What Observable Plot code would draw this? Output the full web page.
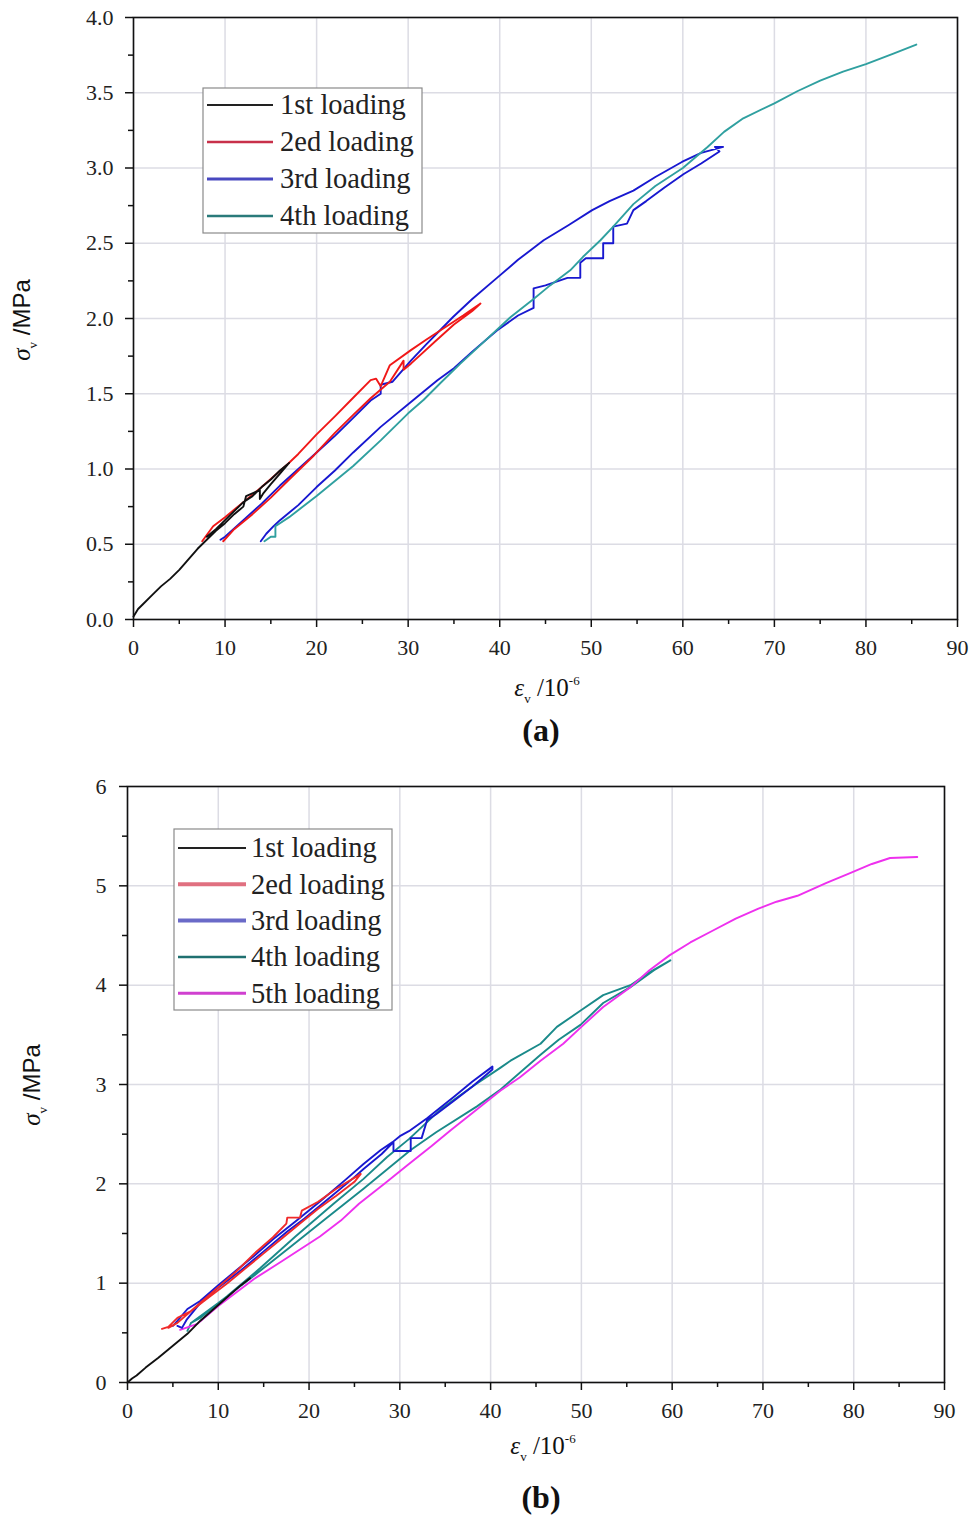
<!DOCTYPE html>
<html>
<head>
<meta charset="utf-8">
<script src="https://cdn.jsdelivr.net/npm/d3@7"></script>
<script src="https://cdn.jsdelivr.net/npm/@observablehq/plot@0.6"></script>
<style>
  body { margin: 0; background: #fff; }
  #wrap { position: relative; width: 969px; height: 1519px; background: #fff; }
  .fig { position: absolute; left: 0; }
  .cap { position: absolute; left: 441px; width: 200px; text-align: center;
         font-family: "Liberation Serif", serif; font-weight: bold; font-size: 32px; color: #111; }
</style>
</head>
<body>
<div id="wrap">
  <div class="fig" id="figA" style="top:0px"></div>
  <div class="cap" style="top:712px">(a)</div>
  <div class="fig" id="figB" style="top:760px"></div>
  <div class="cap" style="top:1479px">(b)</div>
</div>
<script>
// ---------- tick values ----------
const xTicks = [0, 10, 20, 30, 40, 50, 60, 70, 80, 90];
const xMinor = [5, 15, 25, 35, 45, 55, 65, 75, 85];
const yTicksA = [0, 0.5, 1.0, 1.5, 2.0, 2.5, 3.0, 3.5, 4.0];
const yMinorA = [0.25, 0.75, 1.25, 1.75, 2.25, 2.75, 3.25, 3.75];
const yTicksB = [0, 1, 2, 3, 4, 5, 6];
const yMinorB = [0.5, 1.5, 2.5, 3.5, 4.5, 5.5];

// ---------- series names ----------
const namesA = ["1st loading", "2ed loading", "3rd loading", "4th loading"];
const namesB = ["1st loading", "2ed loading", "3rd loading", "4th loading", "5th loading"];

// ---------- chart (a) data: [strain 1e-6, stress MPa] ----------
const a1st = [[0,0.02],[0.5,0.07],[1,0.1],[2,0.16],[3,0.22],[4,0.27],[5,0.33],[6,0.4],[7,0.47],[8,0.53],[9,0.59],[10,0.64],[11,0.7],[12,0.75],[12.3,0.82],[13.8,0.86],[13.8,0.8],[14.2,0.84],[15,0.9],[16,0.97],[17,1.04],[16,0.99],[15,0.93],[14,0.88],[13,0.82],[12,0.78],[11,0.72],[10,0.66],[9,0.6],[8,0.55]];
const a2ed = [[7.5,0.52],[8.7,0.62],[10,0.68],[12,0.78],[14,0.88],[16.8,1.03],[18,1.1],[20,1.23],[22,1.35],[23.7,1.455],[25.9,1.59],[26.5,1.6],[27,1.55],[28,1.69],[30.3,1.79],[32,1.86],[34,1.94],[36,2.02],[37.9,2.1],[37,2.05],[35,1.96],[33,1.85],[30.3,1.7],[29.5,1.66],[29.5,1.72],[28,1.58],[25.9,1.47],[24,1.36],[22,1.24],[19.7,1.09],[17,0.93],[15,0.81],[13,0.7],[11,0.6],[9.8,0.52]];
const a3rd = [[9.5,0.53],[10,0.55],[12,0.66],[14,0.77],[16,0.89],[18,1.0],[20,1.11],[22,1.22],[24,1.34],[25.9,1.455],[27,1.5],[27,1.56],[28.3,1.58],[30.3,1.72],[32,1.83],[34.9,2.01],[37,2.13],[39.7,2.27],[42,2.39],[44.8,2.52],[47.5,2.62],[50.1,2.72],[52,2.78],[54.6,2.85],[57,2.94],[59.9,3.04],[62,3.1],[64.4,3.14],[63.5,3.14],[64,3.11],[62,3.03],[60.1,2.96],[58,2.87],[56,2.78],[54.6,2.72],[53.9,2.63],[52.4,2.61],[52.4,2.5],[51.3,2.5],[51.3,2.4],[49.4,2.4],[48.8,2.37],[48.8,2.27],[47.4,2.27],[45,2.22],[43.7,2.2],[43.7,2.07],[42,2.02],[39.7,1.92],[37,1.78],[35,1.67],[33.2,1.59],[30.4,1.45],[27,1.28],[24,1.11],[22,0.99],[20,0.88],[18,0.76],[16,0.66],[15.3,0.62],[14.5,0.57],[13.9,0.52]];
const a4th = [[14.3,0.52],[15,0.55],[15.5,0.55],[15.5,0.62],[17,0.68],[20,0.82],[22,0.92],[24,1.02],[27,1.19],[30,1.37],[31.7,1.46],[33.5,1.57],[35.7,1.7],[38,1.83],[41.2,2.01],[43.7,2.13],[45.5,2.22],[47.7,2.32],[49.1,2.41],[51,2.52],[52.4,2.61],[54.6,2.76],[57,2.88],[60,3.0],[62.7,3.14],[64.5,3.24],[66.6,3.33],[70,3.43],[72.5,3.51],[75,3.58],[77.5,3.64],[80,3.69],[83,3.76],[85.5,3.82]];

// ---------- chart (b) data ----------
const b1st = [[0,0.0],[0.5,0.04],[1,0.07],[2,0.15],[3.4,0.25],[5,0.37],[6.6,0.49],[8,0.62],[9.5,0.74],[11,0.86],[12.5,0.98],[13.5,1.05]];
const b2ed = [[3.8,0.54],[4.5,0.56],[5.5,0.65],[7,0.72],[8,0.8],[10,0.96],[12,1.12],[14,1.3],[16,1.46],[17.5,1.6],[17.6,1.66],[19,1.66],[19.2,1.73],[21,1.82],[23,1.95],[25.7,2.1],[25,2.02],[23,1.88],[21,1.75],[19,1.6],[17,1.45],[15,1.3],[13,1.15],[11,1.0],[9,0.86],[7,0.72],[5.5,0.6],[4.5,0.55]];
const b3rd = [[5,0.57],[5.5,0.62],[6.6,0.74],[8,0.82],[10,0.98],[12,1.13],[13.9,1.27],[16,1.44],[18.5,1.62],[21.3,1.83],[24,2.04],[26,2.2],[27.9,2.34],[29.2,2.42],[30,2.48],[31,2.53],[33,2.66],[34.1,2.74],[36,2.88],[38,3.03],[40.2,3.18],[40.2,3.15],[38,2.98],[36,2.84],[34,2.7],[33,2.64],[32.4,2.46],[31.2,2.46],[31.2,2.33],[29.3,2.33],[29.3,2.42],[28,2.3],[26,2.15],[24.9,2.06],[22,1.84],[19.5,1.65],[17.6,1.52],[15,1.32],[12.5,1.13],[10.2,0.97],[8,0.8],[6.5,0.63],[6,0.55],[5.5,0.57]];
const b4th = [[6.6,0.52],[7,0.6],[10,0.8],[14,1.08],[18,1.37],[22,1.66],[26,1.95],[31.2,2.34],[34,2.52],[38.5,2.78],[41.1,2.95],[45.5,3.3],[47.5,3.45],[49.9,3.6],[52.4,3.82],[55.4,3.98],[58,4.15],[59.8,4.25],[57.5,4.13],[55.4,4.0],[52.4,3.9],[50,3.75],[47.3,3.58],[45.5,3.41],[42.2,3.24],[41.1,3.17],[38,2.98],[34.5,2.75],[31,2.45],[28.6,2.27],[26,2.05],[22.7,1.8],[18.5,1.47],[14.6,1.15],[11,0.87],[8,0.65],[7,0.6]];
const b5th = [[5.8,0.53],[7.7,0.59],[10,0.77],[13.9,1.04],[17,1.22],[21.2,1.47],[23.5,1.63],[25.5,1.8],[28.3,2.0],[31,2.2],[33.5,2.38],[35.6,2.54],[38.1,2.72],[41.1,2.94],[43.2,3.07],[45.5,3.24],[48,3.41],[50,3.58],[52.4,3.78],[55.4,3.98],[57.5,4.15],[59.7,4.3],[62,4.43],[64.5,4.55],[67,4.67],[69.5,4.77],[71.5,4.84],[73.8,4.9],[77,5.03],[79.4,5.12],[82,5.22],[84,5.28],[87,5.29]];

// ---------- colours ----------
const lineColA = ["#111111", "#f01818", "#1818d0", "#30a0a0"];
const legColA  = ["#222222", "#c8304a", "#4848c0", "#2a7a7a"];
const lineColB = ["#111111", "#f02a2a", "#1818d0", "#1a8a8a", "#ee30ee"];
const legColB  = ["#222222", "#e07080", "#6a6ac8", "#1f7070", "#d040d0"];

function rows(name, pts) { return pts.map(([x, y]) => ({x, y, name})); }

function buildChart(cfg) {
  const plot = Plot.plot({
    width: 969, height: 710,
    marginTop: cfg.mt, marginLeft: cfg.ml, marginRight: cfg.mr, marginBottom: cfg.mb,
    x: {domain: [0, 90]},
    y: {domain: cfg.ydom},
    color: {domain: cfg.names, range: cfg.colors},
    style: {fontFamily: "Liberation Serif, serif", fontSize: "22px", color: "#222", background: "white", overflow: "visible"},
    marks: [
      Plot.gridX(xTicks, {stroke: "#dcdce4", strokeOpacity: 1, strokeWidth: 1.5}),
      Plot.gridY(cfg.yTicks, {stroke: "#dcdce4", strokeOpacity: 1, strokeWidth: 1.5}),
      Plot.line(cfg.data, {x: "x", y: "y", z: "name", stroke: "name", strokeWidth: 1.9, curve: "linear"}),
      Plot.frame({stroke: "#111", strokeWidth: 1.6}),
      Plot.axisX(xTicks, {tickSize: 8, tickPadding: 12, label: null, fontSize: 22, stroke: "#111", strokeWidth: 1.5}),
      Plot.axisX(xMinor, {tickSize: 5, tickFormat: () => "", label: null, stroke: "#111", strokeWidth: 1.5}),
      Plot.axisY(cfg.yTicks, {tickSize: 8, tickPadding: cfg.ypad, label: null, fontSize: 22, tickFormat: cfg.yfmt, stroke: "#111", strokeWidth: 1.5}),
      Plot.axisY(cfg.yMinor, {tickSize: 5, tickFormat: () => "", label: null, stroke: "#111", strokeWidth: 1.5})
    ]
  });
  const svg = d3.select(plot);

  // x axis label: ε_v /10^-6
  const xl = svg.append("text").attr("x", cfg.xlab[0]).attr("y", cfg.xlab[1])
    .attr("text-anchor", "middle").attr("fill", "#111")
    .style("font-family", "Liberation Serif, serif").style("font-size", "25px");
  xl.append("tspan").attr("font-style", "italic").text("ε");
  xl.append("tspan").attr("font-size", "13px").attr("dy", 7).text("v");
  xl.append("tspan").attr("dy", -7).text(" /10");
  xl.append("tspan").attr("font-size", "13px").attr("dy", -11).text("-6");

  // y axis label: σ_v /MPa
  const yl = svg.append("text").attr("transform", `translate(${cfg.ylab[0]},${cfg.ylab[1]}) rotate(-90)`)
    .attr("text-anchor", "middle").attr("fill", "#111")
    .style("font-family", "Liberation Serif, serif").style("font-size", "25px");
  yl.append("tspan").attr("font-style", "italic").text("σ");
  yl.append("tspan").attr("font-size", "13px").attr("dy", 7).text("v");
  yl.append("tspan").attr("dy", -7).attr("font-family", "Liberation Sans, sans-serif").attr("font-size", "24px").text(" /MPa");

  // legend
  const L = cfg.legend;
  const g = svg.append("g");
  g.append("rect").attr("x", L.x).attr("y", L.y).attr("width", L.w).attr("height", L.h)
    .attr("fill", "white").attr("stroke", "#8a8a8a").attr("stroke-width", 1.2);
  cfg.names.forEach((n, i) => {
    const cy = L.row0 + i * L.step;
    g.append("line").attr("x1", L.lx1).attr("x2", L.lx2).attr("y1", cy).attr("y2", cy)
      .attr("stroke", cfg.legColors[i]).attr("stroke-width", cfg.legWidths[i]);
    g.append("text").attr("x", L.tx).attr("y", cy).attr("dy", "0.33em")
      .attr("text-anchor", "start")
      .attr("fill", "#222").style("font-family", "Liberation Serif, serif").style("font-size", "28.5px")
      .text(n);
  });
  return plot;
}

const dataA = [
  ...rows(namesA[2], a3rd), ...rows(namesA[3], a4th), ...rows(namesA[1], a2ed), ...rows(namesA[0], a1st)
];
const dataB = [
  ...rows(namesB[3], b4th), ...rows(namesB[4], b5th), ...rows(namesB[2], b3rd), ...rows(namesB[1], b2ed), ...rows(namesB[0], b1st)
];

document.getElementById("figA").appendChild(buildChart({
  mt: 17, ml: 133, mr: 12, mb: 91,
  ydom: [0, 4], yTicks: yTicksA, yMinor: yMinorA, yfmt: d => d.toFixed(1), ypad: 12,
  names: namesA, colors: lineColA, legColors: legColA, legWidths: [2, 2.5, 3, 2.5],
  data: dataA,
  xlab: [547, 696], ylab: [30, 320],
  legend: {x: 203, y: 88, w: 219, h: 145, row0: 105, step: 37, lx1: 207, lx2: 273, tx: 280}
}));

document.getElementById("figB").appendChild(buildChart({
  mt: 26, ml: 127, mr: 25, mb: 88,
  ydom: [0, 6], yTicks: yTicksB, yMinor: yMinorB, yfmt: d => String(d), ypad: 13,
  names: namesB, colors: lineColB, legColors: legColB, legWidths: [2, 4, 4, 2.5, 3],
  data: dataB,
  xlab: [543, 694], ylab: [40, 325],
  legend: {x: 174, y: 69, w: 218, h: 181, row0: 88, step: 36.3, lx1: 178, lx2: 246, tx: 251}
}));
</script>
</body>
</html>
